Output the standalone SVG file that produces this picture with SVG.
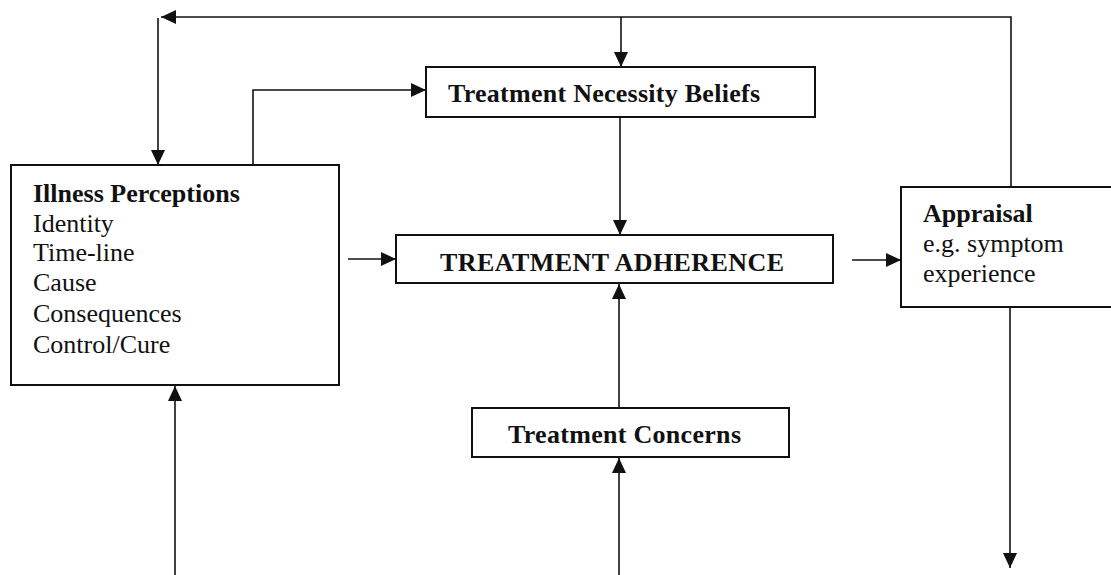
<svg xmlns="http://www.w3.org/2000/svg" width="1111" height="575" viewBox="0 0 1111 575">
<defs>
<marker id="ah" markerUnits="userSpaceOnUse" markerWidth="16" markerHeight="14" refX="15" refY="7" orient="auto">
<path d="M0,0 L15,7 L0,14 Z" fill="#111"/>
</marker>
<style>
.box{fill:#fff;stroke:#111;stroke-width:2}
.arr{fill:none;stroke:#111;stroke-width:1.6;marker-end:url(#ah)}
text{font-family:"Liberation Serif","Times New Roman",serif;font-size:26px;fill:#111}
.b{font-weight:bold}
</style>
</defs>
<rect width="1111" height="575" fill="#fff"/>
<g id="connectors">
<path class="arr" d="M1011,187 V17 H161"/>
<path class="arr" d="M158,18 V165"/>
<path class="arr" d="M621,17 V67"/>
<path class="arr" d="M253,165 V90 H426"/>
<path class="arr" d="M620,117 V235"/>
<path class="arr" d="M348,259 H396"/>
<path class="arr" d="M852,260 H901"/>
<path class="arr" d="M619,408 V284"/>
<path class="arr" d="M619,575 V458"/>
<path class="arr" d="M175,575 V386"/>
<path class="arr" d="M1010,308 V568"/>
</g>
<g id="illness">
<rect class="box" x="11" y="165" width="328" height="220"/>
<text x="33" y="202" class="b">Illness Perceptions</text>
<text x="33" y="232">Identity</text>
<text x="33" y="261">Time-line</text>
<text x="33" y="291">Cause</text>
<text x="33" y="322">Consequences</text>
<text x="33" y="353">Control/Cure</text>
</g>
<g id="necessity">
<rect class="box" x="426" y="67" width="389" height="50"/>
<text x="448" y="102" class="b" textLength="312">Treatment Necessity Beliefs</text>
</g>
<g id="adherence">
<rect class="box" x="396" y="235" width="437" height="48"/>
<text x="440" y="271" class="b" textLength="344">TREATMENT ADHERENCE</text>
</g>
<g id="concerns">
<rect class="box" x="472" y="408" width="317" height="49"/>
<text x="508" y="443" class="b" textLength="233">Treatment Concerns</text>
</g>
<g id="appraisal">
<rect class="box" x="901" y="187" width="220" height="120"/>
<text x="923" y="222" class="b">Appraisal</text>
<text x="923" y="252">e.g. symptom</text>
<text x="923" y="282">experience</text>
</g>
</svg>
